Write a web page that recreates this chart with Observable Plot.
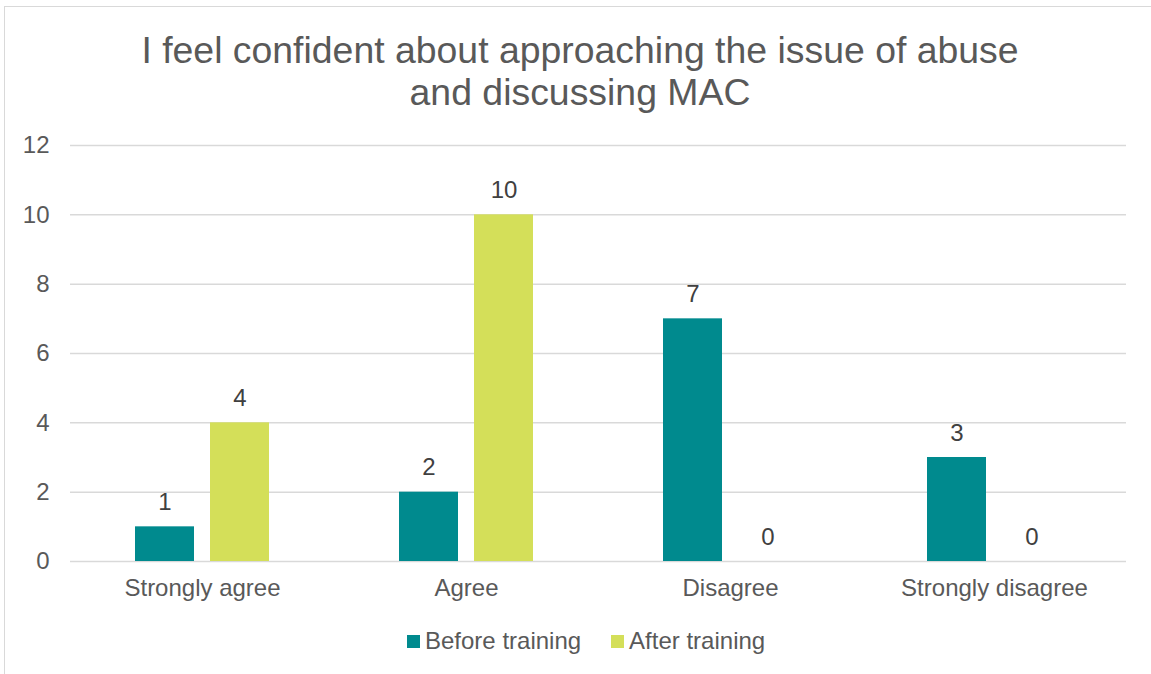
<!DOCTYPE html>
<html>
<head>
<meta charset="utf-8">
<script src="https://cdn.jsdelivr.net/npm/d3@7"></script>
<script src="https://cdn.jsdelivr.net/npm/@observablehq/plot@0.6"></script>
<style>
  html, body { margin: 0; padding: 0; background: #fff; overflow: hidden; }
  body { width: 1151px; height: 674px; position: relative; font-family: "Liberation Sans", Arial, sans-serif; color: #595959; }
  #frame { position: absolute; left: 4px; top: 6px; width: 1160px; height: 700px; border: 1.5px solid #d9d9d9; box-sizing: border-box; }
  #title { position: absolute; left: 0; top: 29px; width: 1160px; text-align: center; font-size: 37.4px; line-height: 42px; color: #595959; }
  #chart { position: absolute; left: 0; top: 0; }
  #legend { position: absolute; left: 407px; top: 627px; font-size: 24px; display: flex; align-items: center; }
  .item { display: flex; align-items: center; margin-right: 30px; }
  .sw { width: 13px; height: 13px; margin-right: 5px; }
</style>
</head>
<body>
<div id="frame"></div>
<div id="chart"></div>
<div id="title">I feel confident about approaching the issue of abuse<br>and discussing MAC</div>
<div id="legend"></div>
<script>
const categories = ["Strongly agree", "Agree", "Disagree", "Strongly disagree"];
const seriesNames = ["Before training", "After training"];
const beforeValues = [1, 2, 7, 3];
const afterValues = [4, 10, 0, 0];
const yTicks = [0, 2, 4, 6, 8, 10, 12];
const colors = ["#008A8E", "#D4DF59"];

const data = [];
categories.forEach((c, i) => {
  data.push({cat: c, series: seriesNames[0], value: beforeValues[i]});
  data.push({cat: c, series: seriesNames[1], value: afterValues[i]});
});

const chart = Plot.plot({
  width: 1151,
  height: 674,
  marginLeft: 68,
  marginRight: 24,
  marginTop: 145,
  marginBottom: 113,
  style: {fontFamily: "Liberation Sans, Arial, sans-serif", fontSize: "24px", color: "#595959", background: "transparent"},
  fx: {domain: categories, padding: 0, label: null},
  x: {domain: seriesNames, paddingInner: 0.21, paddingOuter: 0.847, axis: null},
  y: {domain: [0, 12], label: null},
  color: {domain: seriesNames, range: colors},
  marks: [
    Plot.gridY(yTicks, {stroke: "#d9d9d9", strokeOpacity: 1, strokeWidth: 1.5}),
    Plot.axisY(yTicks, {tickSize: 0, tickPadding: 21, fontSize: 24, fill: "#595959", label: null}),
    Plot.axisFx({anchor: "bottom", tickSize: 0, tickPadding: 17, fontSize: 24, fill: "#595959", label: null}),
    Plot.barY(data, {fx: "cat", x: "series", y: "value", fill: "series"}),
    Plot.text(data, {fx: "cat", x: "series", y: "value", text: d => String(d.value), lineAnchor: "bottom", dy: -17, fontSize: 24, fill: "#404040"})
  ]
});
document.getElementById("chart").appendChild(chart);

const legend = document.getElementById("legend");
seriesNames.forEach((s, i) => {
  const item = document.createElement("div");
  item.className = "item";
  const sw = document.createElement("div");
  sw.className = "sw";
  sw.style.background = colors[i];
  const t = document.createElement("span");
  t.textContent = s;
  item.appendChild(sw);
  item.appendChild(t);
  legend.appendChild(item);
});
</script>
</body>
</html>
